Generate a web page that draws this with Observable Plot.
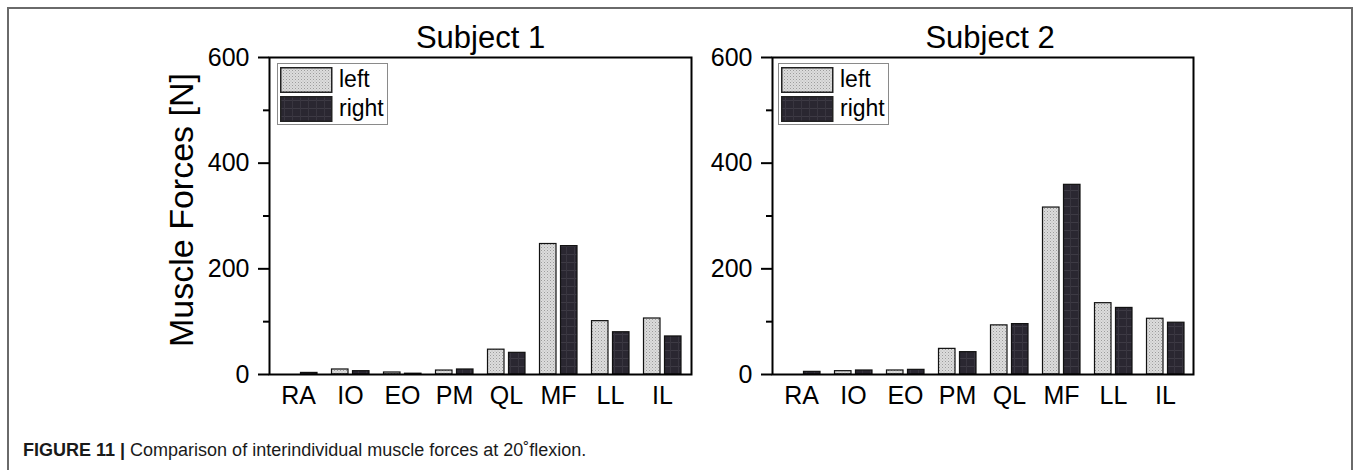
<!DOCTYPE html>
<html>
<head>
<meta charset="utf-8">
<script src="https://cdn.jsdelivr.net/npm/d3@7"></script>
<script src="https://cdn.jsdelivr.net/npm/@observablehq/plot@0.6"></script>
<style>
  body { margin: 0; background: #fff; font-family: "Liberation Sans", Arial, sans-serif; }
  #page { position: relative; width: 1356px; height: 470px; overflow: hidden; background: #fff; }
  .outer { position: absolute; left: 7px; top: 7px; width: 1346px; height: 520px;
           border: 2px solid #6a6a6a; border-bottom: none; box-sizing: border-box; }
  .panel { position: absolute; top: 10px; }
  .legend { position: absolute; border: 1px solid #8a8a8a; background: #fff; box-sizing: border-box; }
  .legend svg { position: absolute; }
  .legend span { position: absolute; font-size: 23px; line-height: 23px; color: #000; }
  .caption { position: absolute; left: 23px; top: 441px; font-size: 18px; line-height: 18px; color: #1a1a1a; white-space: nowrap; }
  .caption b { font-weight: bold; }
</style>
</head>
<body>
<div id="page">
  <svg width="0" height="0" style="position:absolute">
    <defs>
      <pattern id="dots" width="3" height="3" patternUnits="userSpaceOnUse">
        <rect width="3" height="3" fill="#dcdcdc"/>
        <rect width="1" height="1" fill="#9c9c9c"/>
        <rect x="1.5" y="1.5" width="1" height="1" fill="#b4b4b4"/>
      </pattern>
      <pattern id="grid" width="8" height="8" patternUnits="userSpaceOnUse">
        <rect width="8" height="8" fill="#2a2731"/>
        <rect y="4" width="8" height="1" fill="#3d3a44"/>
        <rect x="4" width="1" height="8" fill="#38353f"/>
      </pattern>
    </defs>
  </svg>
  <div class="outer"></div>
  <div class="caption"><b>FIGURE 11 |</b> Comparison of interindividual muscle forces at 20˚flexion.</div>
</div>
<script>
// Muscle groups on the x axis
const muscles = ["RA", "IO", "EO", "PM", "QL", "MF", "LL", "IL"];
const sides = ["left", "right"];
const sideFill = {left: "url(#dots)", right: "url(#grid)"};

// Muscle forces [N] per side
const subject1Left  = [0, 9.5, 3.8, 7.5, 47, 247, 101, 106];
const subject1Right = [3, 6.3, 1.5, 9.5, 41, 243, 80, 72];
const subject2Left  = [0, 6.3, 7.6, 48.5, 93, 316, 135, 105.5];
const subject2Right = [5, 7.6, 8.8, 42.3, 95.4, 359, 126, 98];

const yTicks = [0, 200, 400, 600];
const yMinorTicks = [100, 300, 500];

const page = document.getElementById("page");

function rows(values, side) {
  return muscles.map((m, i) => ({muscle: m, side, value: values[i]}));
}

function panel({title, left, right, pos, width, marginLeft, marginRight, titleDx, ylabel, legendPos}) {
  const chart = Plot.plot({
    width,
    height: 410,
    marginLeft,
    marginRight,
    marginTop: 47,
    marginBottom: 46,
    style: {fontFamily: "Liberation Sans, Arial, sans-serif", color: "#000", background: "transparent", overflow: "visible"},
    x: {domain: muscles, padding: 0, axis: null},
    y: {domain: [0, 600], axis: null},
    marks: [
      Plot.barY(rows(left, "left"), {
        x: "muscle", y: "value", fill: sideFill.left, stroke: "#111", strokeWidth: 1.2,
        insetLeft: 7.5, insetRight: 28
      }),
      Plot.barY(rows(right, "right"), {
        x: "muscle", y: "value", fill: sideFill.right, stroke: "#111", strokeWidth: 1.2,
        insetLeft: 28.5, insetRight: 7
      }),
      Plot.frame({stroke: "#000", strokeWidth: 2}),
      Plot.axisY({ticks: yTicks, tickSize: 11, tickPadding: 9, fontSize: 25, strokeWidth: 2, label: null}),
      Plot.axisY({ticks: yMinorTicks, tickSize: 6, tickFormat: () => "", strokeWidth: 2, label: null}),
      Plot.axisX({tickSize: 0, tickPadding: 12, fontSize: 25, label: null}),
      Plot.text([title], {frameAnchor: "top", lineAnchor: "bottom", dy: -10, dx: titleDx, fontSize: 31}),
      ylabel ? Plot.text([ylabel], {frameAnchor: "left", textAnchor: "middle", rotate: -90, dx: -87, dy: -6, fontSize: 34}) : null
    ]
  });
  const wrap = document.createElement("div");
  wrap.className = "panel";
  wrap.style.left = pos + "px";
  wrap.appendChild(chart);
  page.appendChild(wrap);

  // legend box with pattern swatches
  const lg = document.createElement("div");
  lg.className = "legend";
  lg.style.left = legendPos[0] + "px";
  lg.style.top = legendPos[1] + "px";
  lg.style.width = "111px";
  lg.style.height = "62px";
  sides.forEach((s, i) => {
    const top = 3 + i * 29;
    lg.insertAdjacentHTML("beforeend",
      `<svg style="left:2px;top:${top}px" width="53" height="26"><rect x="0.75" y="0.75" width="51" height="24.5" fill="${sideFill[s]}" stroke="#222" stroke-width="1.5"/></svg>` +
      `<span style="left:61px;top:${top + 1}px">${s}</span>`);
  });
  page.appendChild(lg);
}

panel({title: "Subject 1", left: subject1Left, right: subject1Right, pos: 130, width: 570,
       marginLeft: 139, marginRight: 9, titleDx: 0, ylabel: "Muscle Forces [N]", legendPos: [277, 63]});
panel({title: "Subject 2", left: subject2Left, right: subject2Right, pos: 690, width: 520,
       marginLeft: 82, marginRight: 17, titleDx: 7, ylabel: null, legendPos: [778, 63]});
</script>
</body>
</html>
